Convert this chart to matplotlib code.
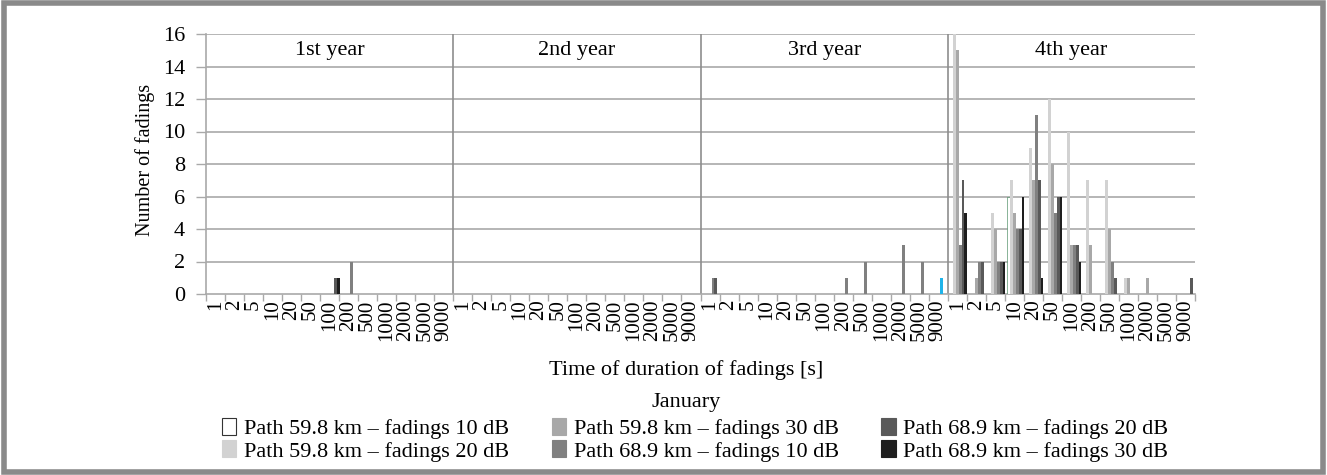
import numpy as np
import matplotlib.pyplot as plt
from matplotlib.patches import Rectangle, Patch

plt.rcParams['font.family'] = ['Liberation Serif', 'DejaVu Serif']

# Categories (duration bins) repeated for each year
durations = ['1', '2', '5', '10', '20', '50', '100', '200', '500',
             '1000', '2000', '5000', '9000']
years = ['1st year', '2nd year', '3rd year', '4th year']

# Number of fadings, one row of 13 values per year
p598_10 = [0]*13 + [0]*13 + [0]*13 + \
          [0, 0, 0, 6, 0, 0, 0, 0, 0, 0, 0, 0, 0]
p598_20 = [0]*13 + [0]*13 + [0]*13 + \
          [16, 0, 5, 7, 9, 12, 10, 7, 7, 1, 0, 0, 0]
p598_30 = [0]*13 + [0]*13 + [0]*13 + \
          [15, 1, 4, 5, 7, 8, 3, 3, 4, 1, 1, 0, 0]
p689_10 = [0, 0, 0, 0, 0, 0, 0, 2, 0, 0, 0, 0, 0] + [0]*13 + \
          [1, 0, 0, 0, 0, 0, 0, 1, 2, 0, 3, 2, 1] + \
          [3, 2, 2, 4, 11, 5, 3, 0, 2, 0, 0, 0, 0]
p689_20 = [0, 0, 0, 0, 0, 0, 1, 0, 0, 0, 0, 0, 0] + [0]*13 + \
          [1, 0, 0, 0, 0, 0, 0, 0, 0, 0, 0, 0, 0] + \
          [7, 2, 2, 4, 7, 6, 3, 0, 1, 0, 0, 0, 1]
p689_30 = [0, 0, 0, 0, 0, 0, 1, 0, 0, 0, 0, 0, 0] + [0]*13 + [0]*13 + \
          [5, 0, 2, 6, 1, 6, 2, 0, 0, 0, 0, 0, 0]

series = [p598_10, p598_20, p598_30, p689_10, p689_20, p689_30]
labels = ['Path 59.8 km \u2013 fadings 10 dB', 'Path 59.8 km \u2013 fadings 20 dB',
          'Path 59.8 km \u2013 fadings 30 dB', 'Path 68.9 km \u2013 fadings 10 dB',
          'Path 68.9 km \u2013 fadings 20 dB', 'Path 68.9 km \u2013 fadings 30 dB']
colors = ['white', '#d2d2d2', '#a8a8a8', '#808080', '#595959', '#1e1e1e']

W, H = 1327, 475
fig = plt.figure(figsize=(W/100, H/100), dpi=100)
ax = fig.add_axes([206/W, 1 - 294/H, (1195 - 206)/W, (294 - 34)/H])

n = len(durations) * len(years)
x = np.arange(n) + 0.5
bw = 0.15
bars = []
for k, (vals, col) in enumerate(zip(series, colors)):
    ec = '#333333' if k == 0 else col
    b = ax.bar(x + (k - 2.5) * bw + 0.08, vals, width=bw, color=col,
               edgecolor=ec, linewidth=0.4 if k == 0 else 0, zorder=3)
    bars.append(b)

# a couple of odd-coloured bars as in the scan
bars[0][39 + 3].set_edgecolor('#2f7a4a')
bars[3][26 + 12].set_color('#1fb4ea')

grid_col = '#a9a9a9'
ax.set_xlim(0, n)
ax.set_ylim(0, 16)
ax.set_yticks(np.arange(0, 17, 2))
for yv in range(2, 17, 2):
    ax.axhline(yv, color=grid_col, lw=1.2, zorder=1)
for i in range(1, len(years)):
    ax.axvline(i * 13, color='#8e8e8e', lw=1.2, zorder=1)
for i, yr in enumerate(years):
    ax.text(i * 13 + 6.5, 15.0, yr, ha='center', va='center', fontsize=16)

ax.set_xticks(x)
ax.set_xticklabels(durations * len(years), rotation=90, fontsize=15)
ax.set_xticks(np.arange(0, n + 1), minor=True)
ax.tick_params(axis='x', which='major', length=0, pad=4)
ax.tick_params(axis='x', which='minor', length=5, color=grid_col, width=1)
ax.tick_params(axis='y', length=7, color=grid_col, width=1, labelsize=16, pad=8)

for s in ['top', 'right']:
    ax.spines[s].set_visible(False)
for s in ['left', 'bottom']:
    ax.spines[s].set_color(grid_col)
    ax.spines[s].set_linewidth(1.2)

fig.text(145/W, 1 - 160/H, 'Number of fadings', rotation=90,
         ha='center', va='center', fontsize=14.5)
fig.text(686/W, 1 - 370/H, 'Time of duration of fadings [s]',
         ha='center', va='center', fontsize=16)
fig.text(686/W, 1 - 402/H, 'January', ha='center', va='center', fontsize=16)

handles = [Patch(facecolor=c, edgecolor='#333333' if i == 0 else c, linewidth=0.8)
           for i, c in enumerate(colors)]
fig.legend(handles, labels, ncol=3, loc='upper left',
           bbox_to_anchor=(222/W, 1 - 418/H), frameon=False, fontsize=16,
           handlelength=0.65, handleheight=0.8, handletextpad=0.35,
           columnspacing=1.9, labelspacing=0.05, borderpad=0, borderaxespad=0)

fig.patches.append(Rectangle((0.003, 0.006), 0.994, 0.988, transform=fig.transFigure,
                             fill=False, edgecolor='#8a8a8a', linewidth=4))

fig.savefig('out.png', dpi=100)
